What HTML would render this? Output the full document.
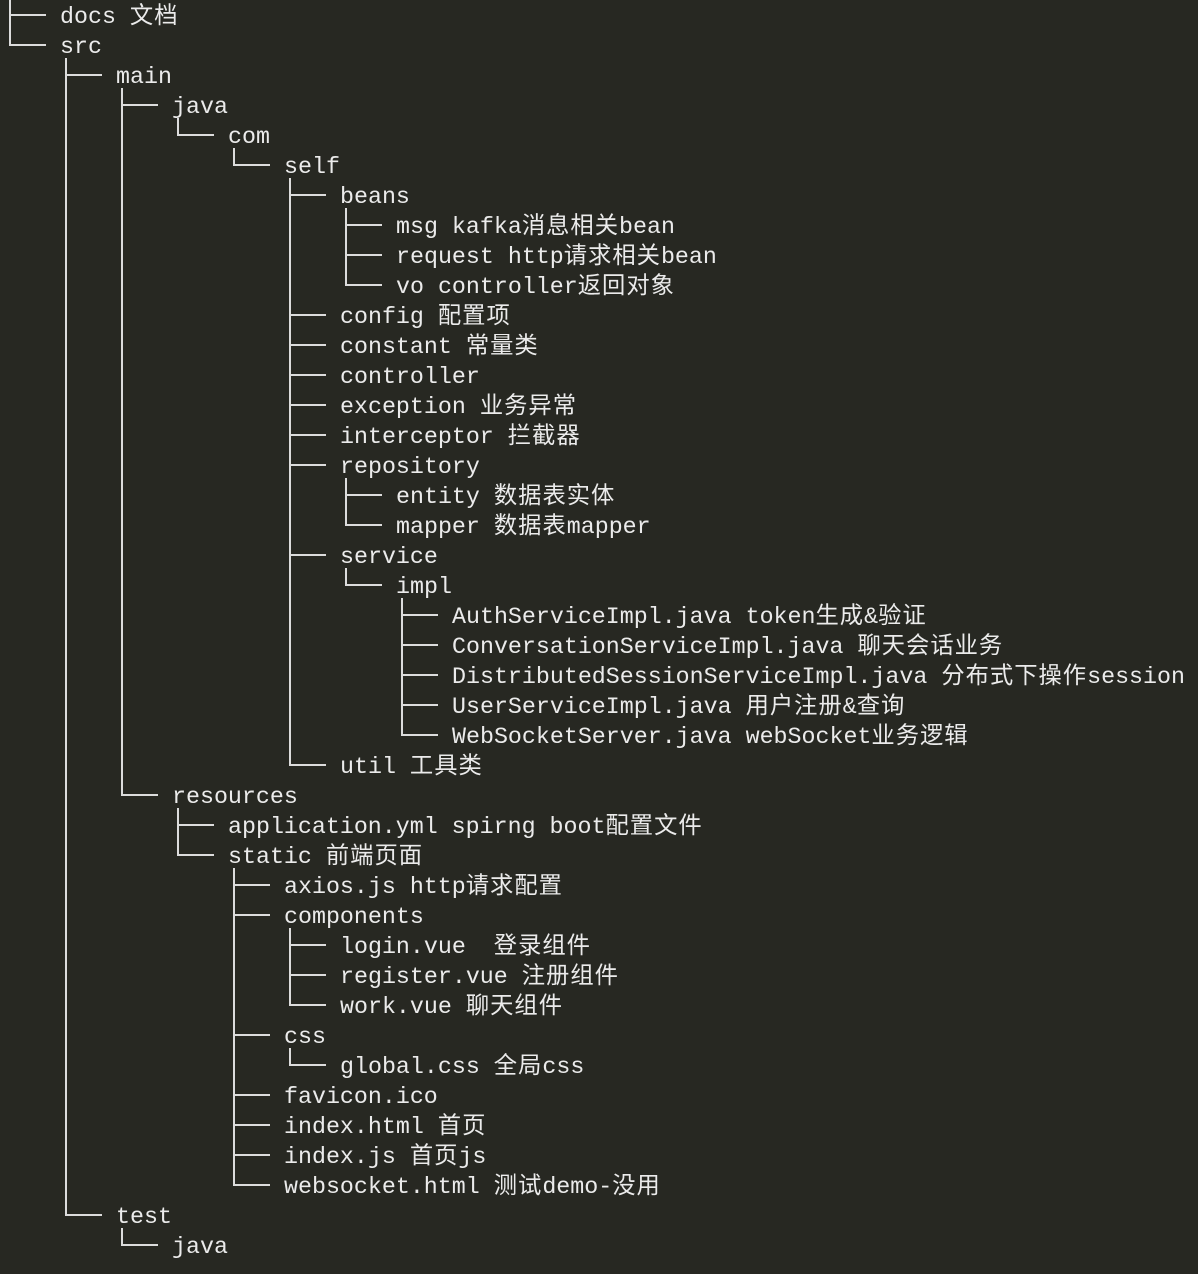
<!DOCTYPE html>
<html><head><meta charset="utf-8"><style>
html,body{margin:0;padding:0}
body{width:1198px;height:1274px;background:#272822;position:relative;overflow:hidden;font-family:"Liberation Mono","Noto Sans CJK SC",monospace;font-size:23.3px;color:#ebebeb}
.r{position:absolute;height:30px;line-height:30px;white-space:pre;margin-top:2px}
.c{letter-spacing:1px}
.l{position:absolute;background:#dcdcdc}
</style></head><body>
<div class="r" style="top:0px;left:60px">docs <span class="c">文档</span></div>
<div class="r" style="top:30px;left:60px">src</div>
<div class="r" style="top:60px;left:116px">main</div>
<div class="r" style="top:90px;left:172px">java</div>
<div class="r" style="top:120px;left:228px">com</div>
<div class="r" style="top:150px;left:284px">self</div>
<div class="r" style="top:180px;left:340px">beans</div>
<div class="r" style="top:210px;left:396px">msg kafka<span class="c">消息相关</span>bean</div>
<div class="r" style="top:240px;left:396px">request http<span class="c">请求相关</span>bean</div>
<div class="r" style="top:270px;left:396px">vo controller<span class="c">返回对象</span></div>
<div class="r" style="top:300px;left:340px">config <span class="c">配置项</span></div>
<div class="r" style="top:330px;left:340px">constant <span class="c">常量类</span></div>
<div class="r" style="top:360px;left:340px">controller</div>
<div class="r" style="top:390px;left:340px">exception <span class="c">业务异常</span></div>
<div class="r" style="top:420px;left:340px">interceptor <span class="c">拦截器</span></div>
<div class="r" style="top:450px;left:340px">repository</div>
<div class="r" style="top:480px;left:396px">entity <span class="c">数据表实体</span></div>
<div class="r" style="top:510px;left:396px">mapper <span class="c">数据表</span>mapper</div>
<div class="r" style="top:540px;left:340px">service</div>
<div class="r" style="top:570px;left:396px">impl</div>
<div class="r" style="top:600px;left:452px">AuthServiceImpl.java token<span class="c">生成</span>&amp;<span class="c">验证</span></div>
<div class="r" style="top:630px;left:452px">ConversationServiceImpl.java <span class="c">聊天会话业务</span></div>
<div class="r" style="top:660px;left:452px">DistributedSessionServiceImpl.java <span class="c">分布式下操作</span>session</div>
<div class="r" style="top:690px;left:452px">UserServiceImpl.java <span class="c">用户注册</span>&amp;<span class="c">查询</span></div>
<div class="r" style="top:720px;left:452px">WebSocketServer.java webSocket<span class="c">业务逻辑</span></div>
<div class="r" style="top:750px;left:340px">util <span class="c">工具类</span></div>
<div class="r" style="top:780px;left:172px">resources</div>
<div class="r" style="top:810px;left:228px">application.yml spirng boot<span class="c">配置文件</span></div>
<div class="r" style="top:840px;left:228px">static <span class="c">前端页面</span></div>
<div class="r" style="top:870px;left:284px">axios.js http<span class="c">请求配置</span></div>
<div class="r" style="top:900px;left:284px">components</div>
<div class="r" style="top:930px;left:340px">login.vue  <span class="c">登录组件</span></div>
<div class="r" style="top:960px;left:340px">register.vue <span class="c">注册组件</span></div>
<div class="r" style="top:990px;left:340px">work.vue <span class="c">聊天组件</span></div>
<div class="r" style="top:1020px;left:284px">css</div>
<div class="r" style="top:1050px;left:340px">global.css <span class="c">全局</span>css</div>
<div class="r" style="top:1080px;left:284px">favicon.ico</div>
<div class="r" style="top:1110px;left:284px">index.html <span class="c">首页</span></div>
<div class="r" style="top:1140px;left:284px">index.js <span class="c">首页</span>js</div>
<div class="r" style="top:1170px;left:284px">websocket.html <span class="c">测试</span>demo-<span class="c">没用</span></div>
<div class="r" style="top:1200px;left:116px">test</div>
<div class="r" style="top:1230px;left:172px">java</div>
<script>
(function(){
var lv=[0,0,1,2,3,4,5,6,6,6,5,5,5,5,5,5,6,6,5,6,7,7,7,7,7,5,2,3,3,4,4,5,5,5,4,5,4,4,4,4,1,2];
function L(x,y,w,h){var d=document.createElement('div');d.className='l';d.style.left=x+'px';d.style.top=y+'px';d.style.width=w+'px';d.style.height=h+'px';document.body.appendChild(d);}
for(var i=0;i<lv.length;i++){
  var x=9+56*lv[i], y=15+30*i;
  L(x,y-1,37,2);
  var t0=0;
  for(var k=i-1;k>=0;k--){if(lv[k]==lv[i]){t0=15+30*k;break;}if(lv[k]<lv[i]){t0=15+30*k+13;break;}}
  L(x,t0,2,y+1-t0);
}
})();
</script>
</body></html>
